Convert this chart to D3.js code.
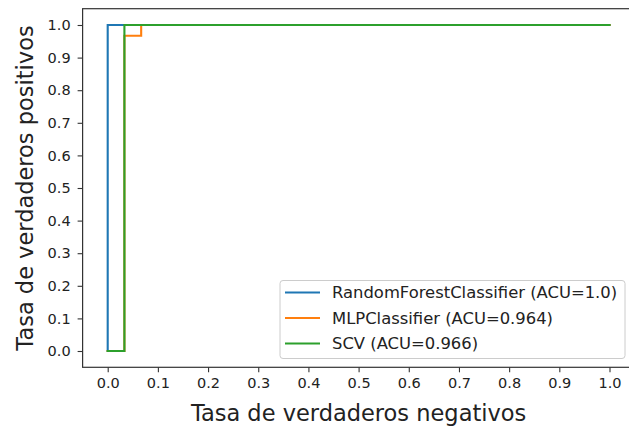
<!DOCTYPE html>
<html>
<head>
<meta charset="utf-8">
<script src="https://cdn.jsdelivr.net/npm/d3@7"></script>
<style>
  html, body { margin: 0; padding: 0; background: #fff; overflow: hidden; }
  svg { display: block; font-family: "DejaVu Sans", sans-serif; }
</style>
</head>
<body>
<svg id="chart" width="629" height="426"></svg>
<script>
// ROC curves (false-positive rate, true-positive rate) for each classifier
const models = ["RandomForestClassifier", "MLPClassifier", "SCV"];
const aucLabels = ["1.0", "0.964", "0.966"];
const colors = ["#1f77b4", "#ff7f0e", "#2ca02c"];

const rfFpr  = [0.0, 0.0, 1.0];
const rfTpr  = [0.0, 1.0, 1.0];
const mlpFpr = [0.0, 0.0333, 0.0333, 0.0667, 0.0667, 1.0];
const mlpTpr = [0.0, 0.0, 0.967, 0.967, 1.0, 1.0];
const svcFpr = [0.0, 0.0333, 0.0333, 1.0];
const svcTpr = [0.0, 0.0, 1.0, 1.0];

const fprs = [rfFpr, mlpFpr, svcFpr];
const tprs = [rfTpr, mlpTpr, svcTpr];

const xTicks = [0.0, 0.1, 0.2, 0.3, 0.4, 0.5, 0.6, 0.7, 0.8, 0.9, 1.0];
const yTicks = [0.0, 0.1, 0.2, 0.3, 0.4, 0.5, 0.6, 0.7, 0.8, 0.9, 1.0];

const xLabel = "Tasa de verdaderos negativos";
const yLabel = "Tasa de verdaderos positivos";

const svg = d3.select("#chart");

const x = d3.scaleLinear().domain([0, 1]).range([107.7, 609.5]);
const y = d3.scaleLinear().domain([0, 1]).range([351, 25]);

const plotLeft = x(-0.05), plotRight = x(1.05), plotTop = y(1.05), plotBottom = y(-0.05);

// curves
const line = d3.line().x(d => x(d[0])).y(d => y(d[1]));
models.forEach((m, i) => {
  const pts = fprs[i].map((v, j) => [v, tprs[i][j]]);
  svg.append("path")
    .attr("d", line(pts))
    .attr("fill", "none")
    .attr("stroke", colors[i])
    .attr("stroke-width", 2.1)
    .attr("stroke-linejoin", "miter")
    .attr("stroke-linecap", "square");
});

// axes
const fmt = d3.format(".1f");
const gx = svg.append("g")
  .attr("transform", `translate(0,${plotBottom})`)
  .call(d3.axisBottom(x).tickValues(xTicks).tickFormat(fmt).tickSize(5).tickPadding(5));
const gy = svg.append("g")
  .attr("transform", `translate(${plotLeft},0)`)
  .call(d3.axisLeft(y).tickValues(yTicks).tickFormat(fmt).tickSize(5).tickPadding(7));
[gx, gy].forEach(g => {
  g.select(".domain").remove();
  g.selectAll(".tick line").attr("stroke", "#333").attr("stroke-width", 1.1);
  g.selectAll(".tick text")
    .attr("fill", "#222")
    .style("font-size", "14.5px")
    .style("font-family", "DejaVu Sans, sans-serif");
});

// frame
svg.append("rect")
  .attr("x", plotLeft).attr("y", plotTop)
  .attr("width", plotRight - plotLeft).attr("height", plotBottom - plotTop)
  .attr("fill", "none").attr("stroke", "#333").attr("stroke-width", 1.2);

// axis titles
svg.append("text")
  .attr("x", (plotLeft + plotRight) / 2).attr("y", 420.5)
  .attr("text-anchor", "middle")
  .attr("fill", "#222")
  .style("font-size", "22.5px")
  .text(xLabel);
svg.append("text")
  .attr("transform", `translate(33,${(plotTop + plotBottom) / 2}) rotate(-90)`)
  .attr("text-anchor", "middle")
  .attr("fill", "#222")
  .style("font-size", "22.5px")
  .text(yLabel);

// legend
const lg = svg.append("g");
lg.append("rect")
  .attr("x", 280).attr("y", 280.5).attr("width", 345).attr("height", 78)
  .attr("rx", 3)
  .attr("fill", "#fff").attr("fill-opacity", 0.8)
  .attr("stroke", "#ccc").attr("stroke-width", 1);
models.forEach((m, i) => {
  const ly = 292.5 + i * 25.5;
  lg.append("line")
    .attr("x1", 285).attr("x2", 320).attr("y1", ly).attr("y2", ly)
    .attr("stroke", colors[i]).attr("stroke-width", 2.1);
  lg.append("text")
    .attr("x", 332).attr("y", ly).attr("dy", "0.36em")
    .attr("fill", "#222")
    .style("font-size", "16.4px")
    .text(`${m} (ACU=${aucLabels[i]})`);
});
</script>
</body>
</html>
